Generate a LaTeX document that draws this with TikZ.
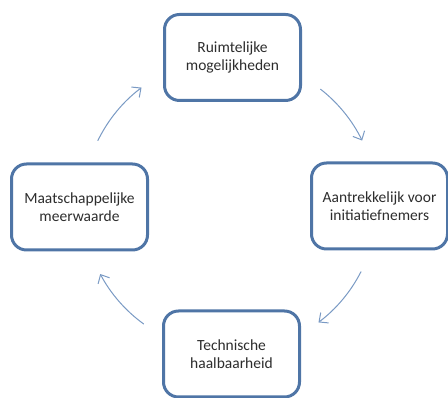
\documentclass[tikz,border=0pt]{standalone}
\usepackage{fontspec}
\setmainfont{Carlito}
\usetikzlibrary{arrows.meta,calc}
\definecolor{boxblue}{RGB}{79,117,166}
\definecolor{arrowblue}{RGB}{122,154,196}
\definecolor{txtgray}{RGB}{45,45,45}
\tikzset{
	stap/.style={draw=boxblue, line width=3pt, rounded corners=15pt, fill=white,
		minimum width=136pt, minimum height=86pt, align=center, text=txtgray,
		font=\fontsize{15.5}{17.5}\selectfont},
	flow/.style={draw=arrowblue, line width=1pt, -{Straight Barb[length=7pt,width=13pt]}}
}
\begin{document}
\begin{tikzpicture}[x=1pt, y=1pt, line join=round, line cap=round]
			\useasboundingbox (0,0) rectangle (448,398);
			\coordinate (mid) at (230,193); % middelpunt cirkel
			\node[stap] (ruimte) at (232.5,340.5) {Ruimtelijke\\mogelijkheden};
			\node[stap] (aantrek) at (379.5,192) {Aantrekkelijk voor\\initiatiefnemers};
			\node[stap] (techniek) at (231.5,44) {Technische\\haalbaarheid};
			\node[stap] (maatsch) at (79.5,191) {Maatschappelijke\\meerwaarde};
			\foreach \s/\e in {154/127, 52/26, -27/-53, -126/-152}
				\draw[flow] ($(mid)+(\s:147)$) arc[start angle=\s, end angle=\e, radius=147];
\end{tikzpicture}
\end{document}
